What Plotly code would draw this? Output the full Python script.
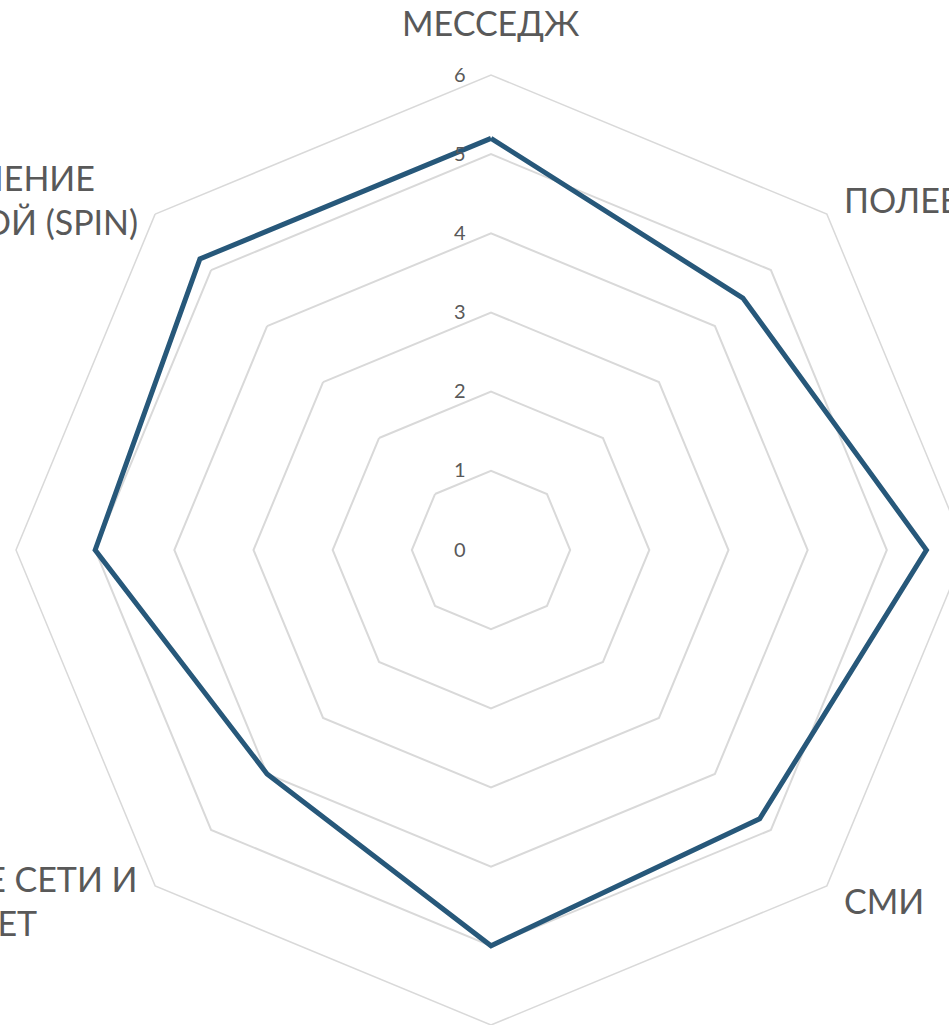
import math
import plotly.graph_objects as go

categories = [
    "МЕССЕДЖ",
    "ПОЛЕВАЯ РАБОТА",
    "РЕКЛАМА",
    "СМИ",
    "ФИНАНСИРОВАНИЕ",
    "СОЦИАЛЬНЫЕ СЕТИ И<br>ИНТЕРНЕТ",
    "КОМАНДА",
    "УПРАВЛЕНИЕ<br>ПОВЕСТКОЙ (SPIN)",
]
values = [5.2, 4.5, 5.5, 4.8, 5.0, 4.0, 5.0, 5.2]
radial_ticks = [0, 1, 2, 3, 4, 5, 6]

FIG_W, FIG_H = 1000, 1025
CX, CY, RAD = 491, 550, 475
RMAX = 6
UNIT = RAD / RMAX

fig = go.Figure()
fig.add_trace(go.Scatterpolar(
    r=values + values[:1],
    theta=categories + categories[:1],
    mode="lines",
    line=dict(color="#27587A", width=5),
    showlegend=False,
    hoverinfo="skip",
))

# category labels around the chart
annotations = []
n = len(categories)
for i, cat in enumerate(categories):
    ang = 90 - 360 * i / n
    a = math.radians(ang)
    c = math.cos(a)
    s = math.sin(a)
    if abs(c) < 1e-6:
        label_r = 6.38
        xanchor = "center"
        yanchor = "bottom" if s > 0 else "top"
    else:
        label_r = 6.27
        xanchor = "left" if c > 0 else "right"
        yanchor = "middle"
    px = CX + label_r * UNIT * c
    py = CY - label_r * UNIT * s
    annotations.append(dict(
        x=px / FIG_W, y=1 - py / FIG_H, xref="paper", yref="paper",
        text=cat, showarrow=False, xanchor=xanchor, yanchor=yanchor,
        align="center",
        font=dict(family="Lato", size=34, color="#595959"),
    ))

fig.update_layout(
    width=FIG_W, height=FIG_H,
    margin=dict(l=0, r=0, t=0, b=0),
    paper_bgcolor="white",
    plot_bgcolor="white",
    annotations=annotations,
    polar=dict(
        domain=dict(x=[(CX - RAD) / FIG_W, (CX + RAD) / FIG_W],
                    y=[(FIG_H - CY - RAD) / FIG_H, (FIG_H - CY + RAD) / FIG_H]),
        bgcolor="white",
        gridshape="linear",
        radialaxis=dict(
            range=[0, RMAX], tickvals=radial_ticks, ticktext=[str(t) for t in radial_ticks],
            angle=90, side="counterclockwise", tickangle=90,
            showline=False, gridcolor="#d9d9d9", gridwidth=1.5,
            ticks="outside", ticklen=18, tickcolor="rgba(0,0,0,0)",
            tickfont=dict(family="Lato", size=20, color="#595959"),
        ),
        angularaxis=dict(
            direction="clockwise", rotation=90,
            showgrid=False, showticklabels=False, ticks="",
            showline=True, linecolor="#d9d9d9", linewidth=1.5,
        ),
    ),
)

fig.write_html(
    "out.html",
    config={"displayModeBar": False},
    post_script="document.body.style.margin='0';document.body.style.overflow='hidden';",
)
